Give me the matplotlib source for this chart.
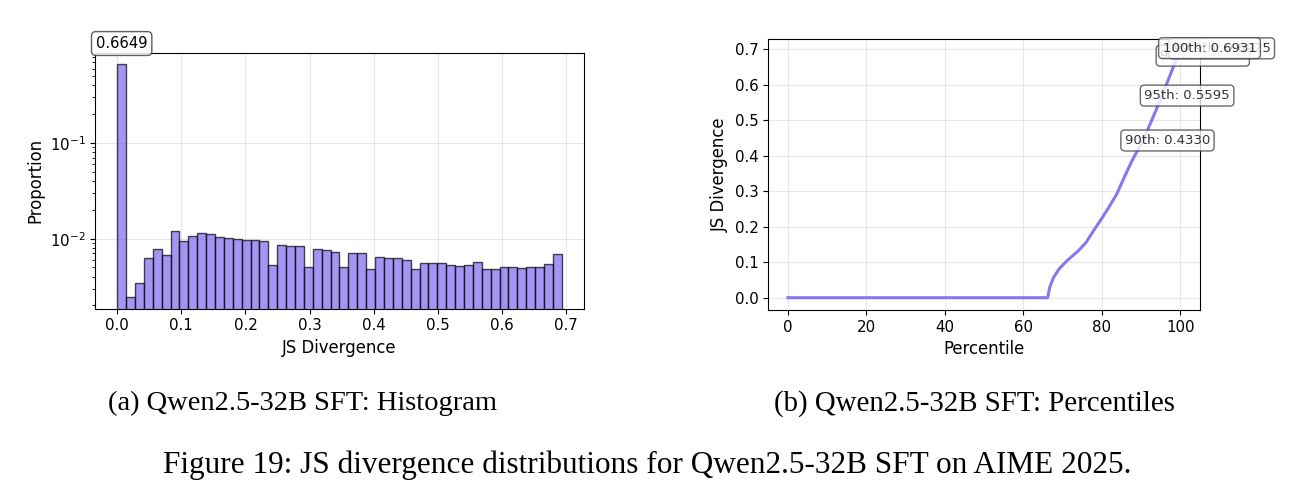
import matplotlib.pyplot as plt
import numpy as np

# (a) histogram: 50 equal-width bins over [0, max JS], proportion per bin
js_max = 0.6931
hist_props = [
    0.6649, 0.00245, 0.00344, 0.00632, 0.00774, 0.00681, 0.0120, 0.00953, 0.01074, 0.01155,
    0.01110, 0.01040, 0.01024, 0.00992, 0.00977, 0.00961, 0.00953, 0.00535, 0.00866, 0.00838,
    0.00845, 0.00510, 0.00774, 0.00768, 0.00720, 0.00506, 0.00708, 0.00708, 0.00482, 0.00643,
    0.00632, 0.00628, 0.00594, 0.00478, 0.00557, 0.00557, 0.00553, 0.00535, 0.00523, 0.00527,
    0.00570, 0.00485, 0.00485, 0.00510, 0.00503, 0.00498, 0.00503, 0.00506, 0.00543, 0.00697,
]

# (b) percentile curve
pct = [0, 66.2, 66.7, 67.7, 69.1, 71.1, 74.0, 76.0, 77.9, 79.9, 81.8, 83.8,
       85.7, 87.7, 90, 91.6, 95, 96.5, 99, 99.9, 100]
pct_js = [0, 0, 0.029, 0.057, 0.081, 0.104, 0.132, 0.156, 0.189, 0.222, 0.255, 0.292,
          0.339, 0.386, 0.4330, 0.471, 0.5595, 0.602, 0.6720, 0.6925, 0.6931]

# labelled percentiles
mark_pct = [90, 95, 99, 99.9, 100]
mark_val = [0.4330, 0.5595, 0.6720, 0.6925, 0.6931]
mark_lbl = ["90th", "95th", "99th", "99.9th", "100th"]

PURPLE = "mediumslateblue"
TICK_FS = 10.8
LABEL_FS = 11.9

fig = plt.figure(figsize=(12.96, 5.04), dpi=100)

# ---- (a) histogram ----
ax1 = fig.add_axes([0.0733, 0.3875, 0.3773, 0.5079])
edges = np.linspace(0, js_max, len(hist_props) + 1)
ax1.bar(edges[:-1], hist_props, width=np.diff(edges), align="edge",
        color=PURPLE, alpha=0.7, edgecolor="black", linewidth=1)
ax1.set_yscale("log")
ax1.set_xlabel("JS Divergence", fontsize=LABEL_FS)
ax1.set_ylabel("Proportion", fontsize=LABEL_FS)
ax1.tick_params(labelsize=TICK_FS)
ax1.grid(True, alpha=0.3)
ax1.set_axisbelow(True)
ax1.annotate(f"{hist_props[0]:.4f}", xy=(edges[0] + (edges[1] - edges[0]) / 2, hist_props[0]),
             xytext=(0, 15), textcoords="offset points", ha="center", va="center",
             fontsize=10.6,
             bbox=dict(boxstyle="round,pad=0.3", fc="white", ec="#444444", alpha=0.85))

# ---- (b) percentiles ----
ax2 = fig.add_axes([0.5928, 0.3849, 0.3331, 0.5371])
ax2.plot(pct, pct_js, color=PURPLE, linewidth=2.2, alpha=0.9)
ax2.set_xlabel("Percentile", fontsize=LABEL_FS)
ax2.set_ylabel("JS Divergence", fontsize=LABEL_FS)
ax2.tick_params(labelsize=TICK_FS)
ax2.grid(True, alpha=0.3)
offsets = [(19, 2.5), (19, 2.5), (19, 2.5), (30, 2.5), (21, 2.5)]
for p, v, lbl, off in zip(mark_pct, mark_val, mark_lbl, offsets):
    ax2.annotate(f"{lbl}: {v:.4f}", xy=(p, v), xytext=off, textcoords="offset points",
                 ha="center", va="center", fontsize=9.5, color="#333333",
                 bbox=dict(boxstyle="round,pad=0.3", fc="white", ec="#444444", alpha=0.8),
                 annotation_clip=False)

# ---- captions ----
serif = ["Liberation Serif", "DejaVu Serif"]
fig.text(0.2334, 0.200, "(a) Qwen2.5-32B SFT: Histogram", ha="center", va="center",
         fontsize=20.5, family=serif)
fig.text(0.7515, 0.200, "(b) Qwen2.5-32B SFT: Percentiles", ha="center", va="center",
         fontsize=20.8, family=serif)
fig.text(0.4990, 0.077, "Figure 19: JS divergence distributions for Qwen2.5-32B SFT on AIME 2025.",
         ha="center", va="center", fontsize=22.5, family=serif)

fig.savefig("out.png", dpi=100)
